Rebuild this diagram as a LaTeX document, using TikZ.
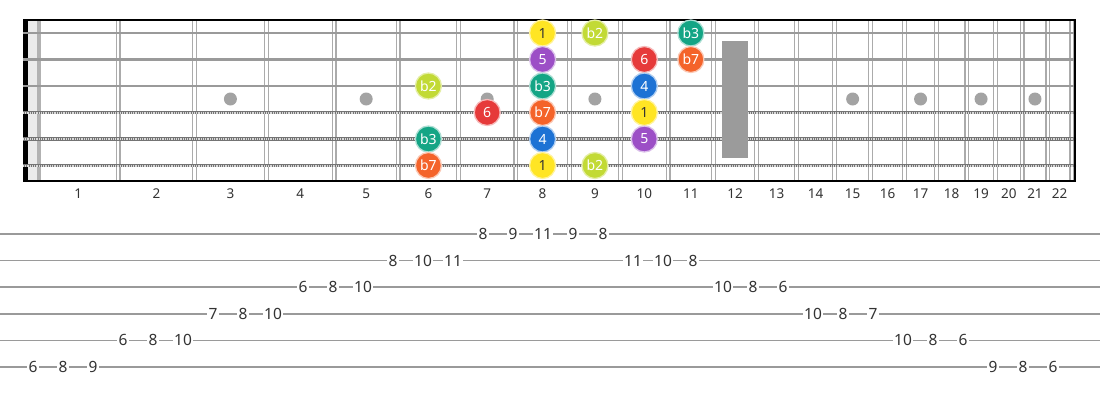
\documentclass[tikz,border=0pt]{standalone}
\usepackage{fontspec}
\setmainfont{Noto Sans}
\usetikzlibrary{positioning}
\definecolor{fretgray}{HTML}{ABABAB}
\definecolor{stringgray}{HTML}{9A9A9A}
\definecolor{inlaygray}{HTML}{A3A3A3}
\definecolor{cRoot}{HTML}{FFE524}
\definecolor{cFlatTwo}{HTML}{C2DA35}
\definecolor{cFlatThree}{HTML}{14A585}
\definecolor{cFour}{HTML}{1D72D4}
\definecolor{cFive}{HTML}{9C4FC6}
\definecolor{cSix}{HTML}{E63A3A}
\definecolor{cFlatSeven}{HTML}{F4632A}

\begin{document}
\begin{tikzpicture}[x=1pt, y=-1pt,
    declare function={fretx(\n)=38+1437*(1-pow(2,-\n/12));
                      notex(\n)=0.5*(fretx(\n-1)+fretx(\n));
                      stry(\s)=33+26.5*(\s-1);
                      taby(\s)=234+26.6*(\s-1);},
    note/.style={circle, minimum size=26pt, inner sep=0pt, line width=1.3pt, text=white, font=\fontsize{14}{14}\selectfont},
    root/.style={note, fill=cRoot, draw=cRoot!45!white, text=black!80},
    flattwo/.style={note, fill=cFlatTwo, draw=cFlatTwo!45!white},
    flatthree/.style={note, fill=cFlatThree, draw=cFlatThree!35!white},
    fourth/.style={note, fill=cFour, draw=cFour!35!white},
    fifth/.style={note, fill=cFive, draw=cFive!35!white},
    sixth/.style={note, fill=cSix, draw=cSix!35!white},
    flatseven/.style={note, fill=cFlatSeven, draw=cFlatSeven!35!white},
    fretnum/.style={inner sep=0pt, text=black!80, font=\fontsize{13.5}{13.5}\selectfont},
    tabnum/.style={fill=white, inner sep=1.5pt, text=black!80, font=\fontsize{15.5}{15.5}\selectfont},
    plainstring/.style={stringgray, line width=2.6pt},
    woundstring/.style={stringgray!75!black, line width=3.6pt}]

\useasboundingbox (0,0) rectangle (1100,400);
\fill[white] (0,0) rectangle (1100,400);

% Nut and headstock strip
\fill[black!8] (28,20) rectangle (37,181);
\fill[black!30] (37,20) rectangle (41,181);
\fill[black] (23,20) rectangle (28,181);

% Frets (double wires)
\foreach \n in {1,...,22}
  \draw[fretgray, line width=1.4pt] ({fretx(\n)-1.9},20) -- ({fretx(\n)-1.9},181)
                                    ({fretx(\n)+1.9},20) -- ({fretx(\n)+1.9},181);

% Inlays
\foreach \n in {3,5,7,9,15,17,19,21}
  \fill[inlaygray] ({notex(\n)},99) circle (6.5);

% Strings
\foreach \s in {1,2,3}
  \draw[plainstring] (23,{stry(\s)}) -- (1076,{stry(\s)});
\foreach \s in {4,5,6} {
  \draw[woundstring] (23,{stry(\s)}) -- (1076,{stry(\s)});
  \draw[white!70!gray, line width=2pt, dash pattern=on 0.8pt off 1pt] (23,{stry(\s)}) -- (1076,{stry(\s)});
}

% Border
\draw[black, line width=1.6pt] (23,20) -- (1075,20) -- (1075,181) -- (23,181);

% 12th fret marker
\fill[inlaygray!95!black] (722,41) rectangle (748,158);

% Fret numbers
\foreach \n in {1,...,22}
  \node[fretnum] (n\n) at ({notex(\n)},194) {\n};

% Notes
\node[root]      (s1f8)  at ({notex(8)},{stry(1)})  {1};
\node[flattwo]   (s1f9)  at ({notex(9)},{stry(1)})  {b2};
\node[flatthree] (s1f11) at ({notex(11)},{stry(1)}) {b3};

\node[fifth]     (s2f8)  at ({notex(8)},{stry(2)})  {5};
\node[sixth]     (s2f10) at ({notex(10)},{stry(2)}) {6};
\node[flatseven] (s2f11) at ({notex(11)},{stry(2)}) {b7};

\node[flattwo]   (s3f6)  at ({notex(6)},{stry(3)})  {b2};
\node[flatthree] (s3f8)  at ({notex(8)},{stry(3)})  {b3};
\node[fourth]    (s3f10) at ({notex(10)},{stry(3)}) {4};

\node[sixth]     (s4f7)  at ({notex(7)},{stry(4)})  {6};
\node[flatseven] (s4f8)  at ({notex(8)},{stry(4)})  {b7};
\node[root]      (s4f10) at ({notex(10)},{stry(4)}) {1};

\node[flatthree] (s5f6)  at ({notex(6)},{stry(5)})  {b3};
\node[fourth]    (s5f8)  at ({notex(8)},{stry(5)})  {4};
\node[fifth]     (s5f10) at ({notex(10)},{stry(5)}) {5};

\node[flatseven] (s6f6)  at ({notex(6)},{stry(6)})  {b7};
\node[root]      (s6f8)  at ({notex(8)},{stry(6)})  {1};
\node[flattwo]   (s6f9)  at ({notex(9)},{stry(6)})  {b2};

% Tab lines
\foreach \s in {1,...,6}
  \draw[stringgray, line width=1.5pt] (0,{taby(\s)}) -- (1100,{taby(\s)});

% Tab numbers
\foreach \k/\s/\f in {0/6/6, 1/6/8, 2/6/9, 3/5/6, 4/5/8, 5/5/10, 6/4/7, 7/4/8, 8/4/10,
    9/3/6, 10/3/8, 11/3/10, 12/2/8, 13/2/10, 14/2/11, 15/1/8, 16/1/9, 17/1/11,
    18/1/9, 19/1/8, 20/2/11, 21/2/10, 22/2/8, 23/3/10, 24/3/8, 25/3/6,
    26/4/10, 27/4/8, 28/4/7, 29/5/10, 30/5/8, 31/5/6, 32/6/9, 33/6/8, 34/6/6}
  \node[tabnum] (t\k) at ({33+30*\k},{taby(\s)}) {\f};

\end{tikzpicture}
\end{document}
